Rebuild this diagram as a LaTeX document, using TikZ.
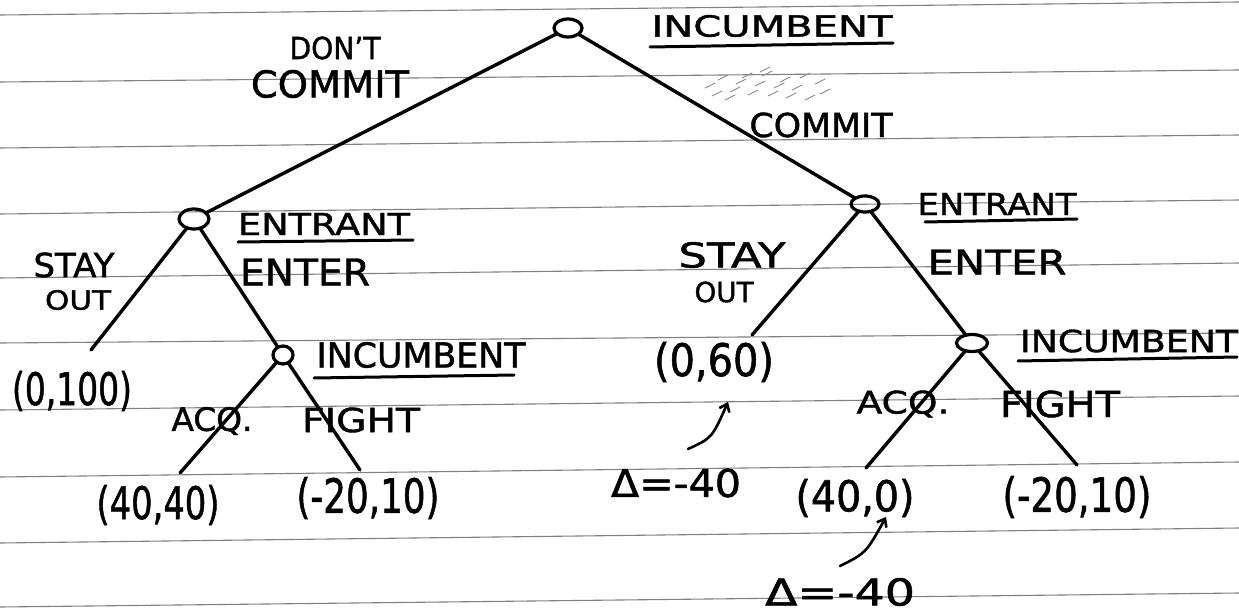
\documentclass[tikz,border=0pt]{standalone}
\usepackage{fontspec}
\setmainfont{DejaVu Sans}[FakeBold=1.3]
\usepackage{graphicx}
\usetikzlibrary{shapes.geometric,arrows.meta}
\newcommand{\hwtxt}[3]{\resizebox*{#1pt}{#2pt}{#3}}
\begin{document}
\begin{tikzpicture}[x=1pt,y=-1pt,
  dec/.style={draw=black, ellipse, line width=3.2pt, inner sep=0pt, outer sep=0pt},
  branch/.style={line width=3.4pt, line cap=round},
  lbl/.style={inner sep=0pt, outer sep=0pt, anchor=center},
  uline/.style={line width=3pt, line cap=round},
  rule/.style={draw=black!50, line width=1.1pt},
  smudge/.style={draw=black!45, line width=0.9pt, line cap=round},
  note/.style={line width=2.6pt, line cap=round, -{Straight Barb[length=7pt,width=11pt]}}
]
\useasboundingbox (0,0) rectangle (1239,615);
\fill[white] (0,0) rectangle (1239,615);
% ruled paper
\foreach \yl/\yr in {15/2, 82/70, 148/135, 214/200, 278/263, 343/333, 410/396, 477/462, 543/528, 607/593}
  \draw[rule] (0,\yl) -- (1239,\yr);
% smudge
\foreach \sx/\sy in {705/88, 712/96, 718/80, 730/92, 736/84, 742/78, 748/95, 755/86, 762/76, 768/96, 774/88, 780/82, 786/98, 792/90, 800/78, 805/100, 815/84, 725/100, 760/72, 820/94}
  \draw[smudge] (\sx,\sy) -- ++(10,-5);

% decision nodes
\node[dec, minimum width=28pt, minimum height=18pt] (root) at (568,28) {};
\node[dec, minimum width=30pt, minimum height=20pt] (eL) at (194,219) {};
\node[dec, minimum width=28pt, minimum height=16pt] (eR) at (865,204) {};
\node[dec, minimum width=20pt, minimum height=18pt] (iL) at (283,355) {};
\node[dec, minimum width=31pt, minimum height=17pt] (iR) at (972,343) {};

% branch ends
\coordinate (tSL) at (91,350);
\coordinate (tAL) at (180,473);
\coordinate (tFL) at (360,470);
\coordinate (tSR) at (752,335);
\coordinate (tAR) at (866,468);
\coordinate (tFR) at (1077,465);

\draw[branch] (root) -- (eL);
\draw[branch] (root) -- (eR);
\draw[branch] (eL) -- (tSL);
\draw[branch] (eL) -- (iL);
\draw[branch] (iL) -- (tAL);
\draw[branch] (iL) -- (tFL);
\draw[branch] (eR) -- (tSR);
\draw[branch] (eR) -- (iR);
\draw[branch] (iR) -- (tAR);
\draw[branch] (iR) -- (tFR);

% labels
\node[lbl] (tIncTop) at (772,26) {\hwtxt{241}{22}{INCUMBENT}};
\draw[uline] (650,47) -- (893,43);
\node[lbl] (tDont) at (335,48) {\hwtxt{91}{23}{DON'T}};
\node[lbl] (tDcommit) at (330,84) {\hwtxt{158}{28}{COMMIT}};
\node[lbl] (tCommit) at (821,125) {\hwtxt{143}{25}{COMMIT}};

\node[lbl] (tEntR) at (997,204) {\hwtxt{159}{22}{ENTRANT}};
\draw[uline] (925,222) -- (1077,219);
\node[lbl] (tEnterR) at (997,262) {\hwtxt{139}{25}{ENTER}};
\node[lbl] (tStayR) at (732,255) {\hwtxt{107}{26}{STAY}};
\node[lbl] (tOutR) at (724,292) {\hwtxt{59}{21}{OUT}};
\node[lbl] (p060) at (714,362) {\hwtxt{120}{40}{(0,60)}};

\node[lbl] (tEntL) at (324,224) {\hwtxt{172}{22}{ENTRANT}};
\draw[uline] (238,242) -- (413,240);
\node[lbl] (tEnterL) at (305,272) {\hwtxt{130}{27}{ENTER}};
\node[lbl] (tStayL) at (74,265) {\hwtxt{81}{25}{STAY}};
\node[lbl] (tOutL) at (78,300) {\hwtxt{66}{20}{OUT}};
\node[lbl] (p0100) at (72,391) {\hwtxt{120}{40}{(0,100)}};

\node[lbl] (tIncL) at (421,355) {\hwtxt{209}{26}{INCUMBENT}};
\draw[uline] (314,378) -- (514,375);
\node[lbl] (tAcqL) at (212,421) {\hwtxt{81}{28}{ACQ.}};
\node[lbl] (tFightL) at (361,420) {\hwtxt{118}{25}{FIGHT}};
\node[lbl] (p4040) at (158,505) {\hwtxt{123}{40}{(40,40)}};
\node[lbl] (pm2010L) at (368,498) {\hwtxt{143}{42}{(-20,10)}};

\node[lbl] (tIncR) at (1129,341) {\hwtxt{218}{23}{INCUMBENT}};
\draw[uline] (1018,361) -- (1237,357);
\node[lbl] (tAcqR) at (903,404) {\hwtxt{93}{27}{ACQ.}};
\node[lbl] (tFightR) at (1060,404) {\hwtxt{120}{27}{FIGHT}};
\node[lbl] (p400) at (855,498) {\hwtxt{119}{38}{(40,0)}};
\node[lbl] (pm2010R) at (1077,497) {\hwtxt{149}{42}{(-20,10)}};

\node[lbl] (d1) at (676,483) {\hwtxt{130}{29}{Δ=-40}};
\node[lbl] (d2) at (840,592) {\hwtxt{150}{28}{Δ=-40}};

% annotation arrows
\coordinate (a1s) at (688,449);
\coordinate (a1e) at (728,402);
\coordinate (a2s) at (840,566);
\coordinate (a2e) at (886,517);
\draw[note] (a1s) .. controls (712,438) .. (a1e);
\draw[note] (a2s) .. controls (866,553) .. (a2e);
\end{tikzpicture}
\end{document}
